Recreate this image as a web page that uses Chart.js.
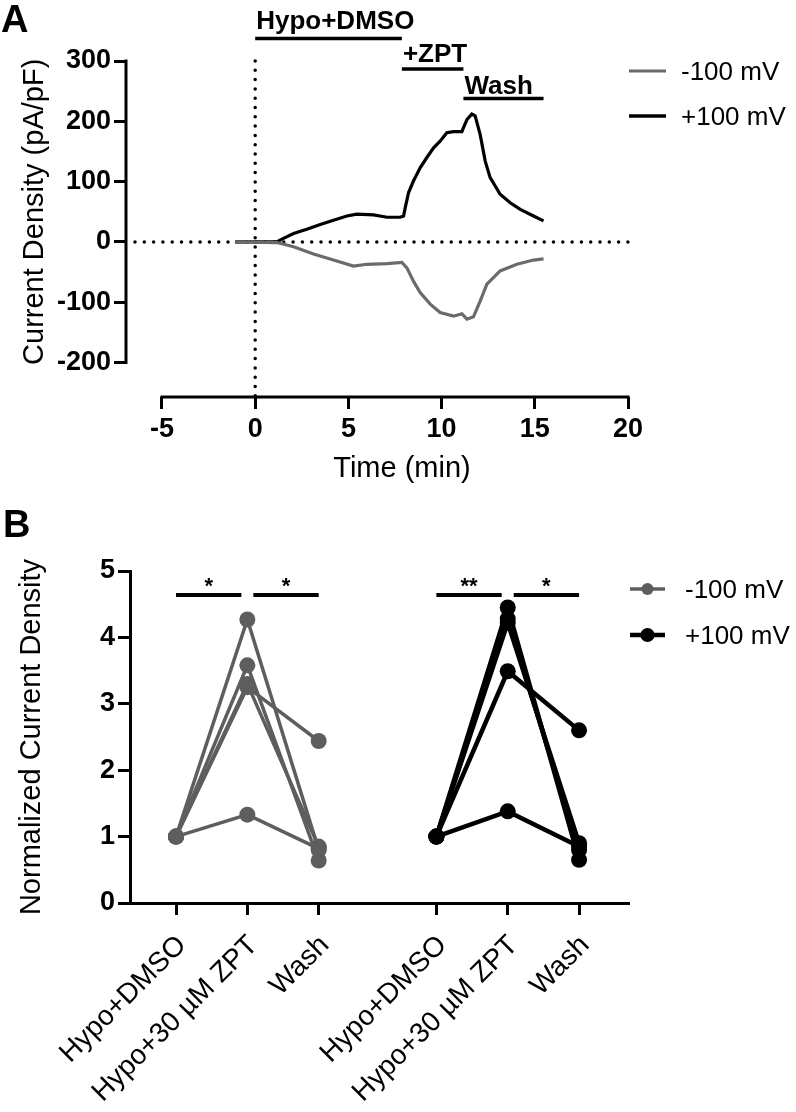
<!DOCTYPE html>
<html>
<head>
<meta charset="utf-8">
<script src="https://cdn.jsdelivr.net/npm/chart.js@4.4.1/dist/chart.umd.min.js"></script>
<style>
  body { margin: 0; background: #fff; }
  canvas { display: block; }
</style>
</head>
<body>
<canvas id="traceChart" width="796" height="490"></canvas>
<canvas id="pairChart" width="796" height="622"></canvas>
<script>
// ---- Panel A: current density over time ----
const timeNeg = [-1.07, 1.16, 2.06, 3.13, 4.2, 5.27, 5.99, 7.07, 7.87, 8.14, 8.49, 8.85, 9.39, 9.92, 10.64, 11.09, 11.36, 11.71, 12.07, 12.43, 13.14, 14.04, 14.93, 15.47];
const currentNeg = [0, -1, -8, -20, -30, -40, -37, -36, -34, -43, -65, -84, -103, -117, -123, -119, -128, -124, -98, -70, -48, -37, -30, -28];
const timePos = [-1.07, 1.16, 1.52, 2.06, 2.77, 3.49, 4.2, 4.92, 5.45, 6.35, 7.07, 7.78, 7.96, 8.05, 8.23, 8.49, 8.85, 9.21, 9.57, 9.92, 10.28, 10.64, 11.09, 11.17, 11.36, 11.62, 11.8, 12.07, 12.34, 12.6, 13.14, 13.68, 14.22, 14.93, 15.47];
const currentPos = [0, 0, 6, 14, 21, 29, 36, 43, 46, 45, 41, 41, 43, 57, 82, 101, 123, 140, 156, 167, 181, 183, 183, 189, 203, 212, 209, 178, 134, 107, 79, 65, 54, 43, 35];
const timeTicks = [-5, 0, 5, 10, 15, 20];
const currentTicks = [-200, -100, 0, 100, 200, 300];
const treatments = ['Hypo+DMSO', '+ZPT', 'Wash'];
const treatmentStart = [0, 7.87, 11.17];
const treatmentEnd = [7.87, 11.17, 15.47];
const seriesLabels = ['-100 mV', '+100 mV'];

// ---- Panel B: normalized current density per cell ----
const conditions = ['Hypo+DMSO', 'Hypo+30 \u00b5M ZPT', 'Wash'];
const neg100Cells = [
  [1, 4.27, 0.80],
  [1, 3.58, 0.64],
  [1, 3.30, 0.85],
  [1, 3.25, 2.44],
  [1, 1.33, 0.82]
];
const pos100Cells = [
  [1, 4.45, 0.65],
  [1, 4.28, 0.80],
  [1, 4.22, 0.90],
  [1, 3.49, 2.60],
  [1, 1.38, 0.85]
];
const normTicks = [0, 1, 2, 3, 4, 5];
const sigLabels = [['*', '*'], ['**', '*']];

const FONT = '"Liberation Sans", Arial, Helvetica, sans-serif';
const GREY_A = '#6b6b6b';
const GREY_B = '#5e5e5e';

// column positions on the linear x axis of panel B (gap between groups)
const groupPos = (g, i) => 1 + i + g * 3.65;

function toPoints(xs, ys) {
  return xs.map((t, i) => ({ x: t, y: ys[i] }));
}

// ---- Chart A ----
const traceDecor = {
  id: 'traceDecor',
  beforeDatasetsDraw(chart) {
    const { ctx, chartArea, scales: { x, y } } = chart;
    ctx.save();
    ctx.strokeStyle = '#000';
    ctx.lineWidth = 3.5;
    ctx.lineCap = 'round';
    ctx.setLineDash([0, 9.3]);
    ctx.beginPath();
    ctx.moveTo(chartArea.left + 9, y.getPixelForValue(0));
    ctx.lineTo(x.getPixelForValue(20), y.getPixelForValue(0));
    ctx.stroke();
    ctx.beginPath();
    ctx.moveTo(x.getPixelForValue(0), y.getPixelForValue(300));
    ctx.lineTo(x.getPixelForValue(0), chartArea.bottom);
    ctx.stroke();
    ctx.restore();
  },
  afterDraw(chart) {
    const { ctx, chartArea, scales: { x, y } } = chart;
    ctx.save();
    // offset axes
    ctx.strokeStyle = '#000';
    ctx.lineWidth = 3;
    ctx.lineCap = 'square';
    ctx.beginPath();
    ctx.moveTo(chartArea.left, y.getPixelForValue(currentTicks[currentTicks.length - 1]));
    ctx.lineTo(chartArea.left, y.getPixelForValue(currentTicks[0]));
    ctx.moveTo(x.getPixelForValue(timeTicks[0]), chartArea.bottom);
    ctx.lineTo(x.getPixelForValue(timeTicks[timeTicks.length - 1]), chartArea.bottom);
    ctx.stroke();

    // axis titles
    ctx.fillStyle = '#000';
    ctx.font = '29px ' + FONT;
    ctx.textAlign = 'center';
    ctx.textBaseline = 'alphabetic';
    ctx.fillText('Time (min)', (x.getPixelForValue(-5) + x.getPixelForValue(20)) / 2 + 7, 477);
    ctx.save();
    ctx.translate(43, (y.getPixelForValue(300) + y.getPixelForValue(-200)) / 2);
    ctx.rotate(-Math.PI / 2);
    ctx.fillText('Current Density (pA/pF)', 0, 0);
    ctx.restore();

    // treatment bars
    const barY = [38.5, 69, 98.5];
    const textY = [29, 62, 94];
    ctx.font = 'bold 26px ' + FONT;
    ctx.textAlign = 'left';
    ctx.lineWidth = 3.5;
    ctx.lineCap = 'butt';
    treatments.forEach((name, i) => {
      const x0 = x.getPixelForValue(treatmentStart[i]);
      const x1 = x.getPixelForValue(treatmentEnd[i]);
      ctx.beginPath();
      ctx.moveTo(x0, barY[i]);
      ctx.lineTo(x1, barY[i]);
      ctx.stroke();
      ctx.fillText(name, x0 + 1, textY[i]);
    });

    // legend
    const legendY = [71, 116];
    const legendCol = [GREY_A, '#000'];
    ctx.font = '26px ' + FONT;
    seriesLabels.forEach((lab, i) => {
      ctx.strokeStyle = legendCol[i];
      ctx.lineWidth = i ? 3.5 : 3;
      ctx.beginPath();
      ctx.moveTo(629, legendY[i]);
      ctx.lineTo(666, legendY[i]);
      ctx.stroke();
      ctx.fillStyle = '#000';
      ctx.fillText(lab, 681, legendY[i] + 9);
    });

    // panel letter
    ctx.font = 'bold 38px ' + FONT;
    ctx.fillText('A', 1, 32);
    ctx.restore();
  }
};

const axisTicks = {
  display: true,
  drawOnChartArea: false,
  drawTicks: true,
  tickLength: 12,
  tickWidth: 3,
  tickColor: '#000'
};

new Chart(document.getElementById('traceChart'), {
  type: 'line',
  data: {
    datasets: [
      {
        label: seriesLabels[0],
        data: toPoints(timeNeg, currentNeg),
        borderColor: GREY_A,
        borderWidth: 3.2,
        pointRadius: 0,
        tension: 0
      },
      {
        label: seriesLabels[1],
        data: toPoints(timePos, currentPos),
        borderColor: '#000',
        borderWidth: 3.2,
        pointRadius: 0,
        tension: 0
      }
    ]
  },
  options: {
    responsive: false,
    animation: false,
    devicePixelRatio: 1,
    layout: { padding: { top: 61, right: 168, left: 0, bottom: 0 } },
    plugins: { legend: { display: false }, tooltip: { enabled: false } },
    scales: {
      x: {
        type: 'linear',
        min: -6.93,
        max: 20,
        afterBuildTicks: (s) => { s.ticks = timeTicks.map(v => ({ value: v })); },
        afterFit: (s) => { s.height = 93; },
        grid: axisTicks,
        border: { display: false },
        ticks: { color: '#000', font: { family: FONT, size: 27, weight: 'bold' }, padding: 4, maxRotation: 0 }
      },
      y: {
        min: -257,
        max: 300,
        afterBuildTicks: (s) => { s.ticks = currentTicks.map(v => ({ value: v })); },
        afterFit: (s) => { s.width = 126; },
        grid: axisTicks,
        border: { display: false },
        ticks: { color: '#000', font: { family: FONT, size: 27, weight: 'bold' }, padding: 3 }
      }
    }
  },
  plugins: [traceDecor]
});

// ---- Chart B ----
const pairDecor = {
  id: 'pairDecor',
  afterDraw(chart) {
    const { ctx, scales: { x, y } } = chart;
    ctx.save();
    ctx.fillStyle = '#000';
    ctx.strokeStyle = '#000';
    ctx.textBaseline = 'alphabetic';
    // significance bars
    const by = y.getPixelForValue(4.64);
    ctx.lineWidth = 4;
    ctx.textAlign = 'center';
    ctx.font = 'bold 22px ' + FONT;
    sigLabels.forEach((pair, g) => {
      pair.forEach((star, k) => {
        const x0 = x.getPixelForValue(groupPos(g, k)) + (k ? 6 : 0);
        const x1 = x.getPixelForValue(groupPos(g, k + 1)) - (k ? 0 : 6);
        ctx.beginPath();
        ctx.moveTo(x0, by);
        ctx.lineTo(x1, by);
        ctx.stroke();
        ctx.fillText(star, (x0 + x1) / 2, by - 2);
      });
    });

    // legend
    const legendY = [99, 145];
    const legendCol = [GREY_B, '#000'];
    ctx.textAlign = 'left';
    ctx.font = '26px ' + FONT;
    seriesLabels.forEach((lab, i) => {
      ctx.strokeStyle = legendCol[i];
      ctx.fillStyle = legendCol[i];
      ctx.lineWidth = i ? 4.5 : 3.5;
      ctx.beginPath();
      ctx.moveTo(630, legendY[i]);
      ctx.lineTo(665, legendY[i]);
      ctx.stroke();
      ctx.beginPath();
      ctx.arc(647.5, legendY[i], i ? 7 : 6, 0, Math.PI * 2);
      ctx.fill();
      ctx.fillStyle = '#000';
      ctx.fillText(lab, 685, legendY[i] + 9);
    });

    ctx.font = 'bold 38px ' + FONT;
    ctx.fillText('B', 3, 47);
    ctx.restore();
  }
};

const cellSets = [];
neg100Cells.forEach((cell) => {
  cellSets.push({
    label: seriesLabels[0],
    data: cell.map((v, i) => ({ x: groupPos(0, i), y: v })),
    borderColor: GREY_B,
    backgroundColor: GREY_B,
    borderWidth: 3.5,
    pointRadius: 8,
    pointBorderWidth: 0,
    pointBackgroundColor: GREY_B
  });
});
pos100Cells.forEach((cell) => {
  cellSets.push({
    label: seriesLabels[1],
    data: cell.map((v, i) => ({ x: groupPos(1, i), y: v })),
    borderColor: '#000',
    backgroundColor: '#000',
    borderWidth: 4.5,
    pointRadius: 8,
    pointBorderWidth: 0,
    pointBackgroundColor: '#000'
  });
});

const tickPositions = [0, 1].flatMap(g => conditions.map((c, i) => groupPos(g, i)));

new Chart(document.getElementById('pairChart'), {
  type: 'line',
  data: { datasets: cellSets },
  options: {
    responsive: false,
    animation: false,
    devicePixelRatio: 1,
    layout: { padding: { top: 81, right: 167, left: 0, bottom: 0 } },
    plugins: { legend: { display: false }, tooltip: { enabled: false } },
    scales: {
      x: {
        type: 'linear',
        min: 0.355,
        max: 7.35,
        afterBuildTicks: (s) => { s.ticks = tickPositions.map(v => ({ value: v })); },
        afterFit: (s) => { s.height = 209; },
        grid: axisTicks,
        border: { display: true, color: '#000', width: 3 },
        ticks: {
          color: '#000',
          font: { family: FONT, size: 28 },
          autoSkip: false,
          minRotation: 45,
          maxRotation: 45,
          padding: 14,
          labelOffset: 6,
          callback: (v, i) => conditions[i % conditions.length]
        }
      },
      y: {
        min: 0,
        max: 5,
        afterBuildTicks: (s) => { s.ticks = normTicks.map(v => ({ value: v })); },
        afterFit: (s) => { s.width = 130; },
        grid: axisTicks,
        border: { display: true, color: '#000', width: 3 },
        title: {
          display: true,
          text: 'Normalized Current Density',
          color: '#000',
          font: { family: FONT, size: 29 },
          padding: { top: 15, bottom: 0 }
        },
        ticks: { color: '#000', font: { family: FONT, size: 27, weight: 'bold' }, padding: 3 }
      }
    }
  },
  plugins: [pairDecor]
});
</script>
</body>
</html>
